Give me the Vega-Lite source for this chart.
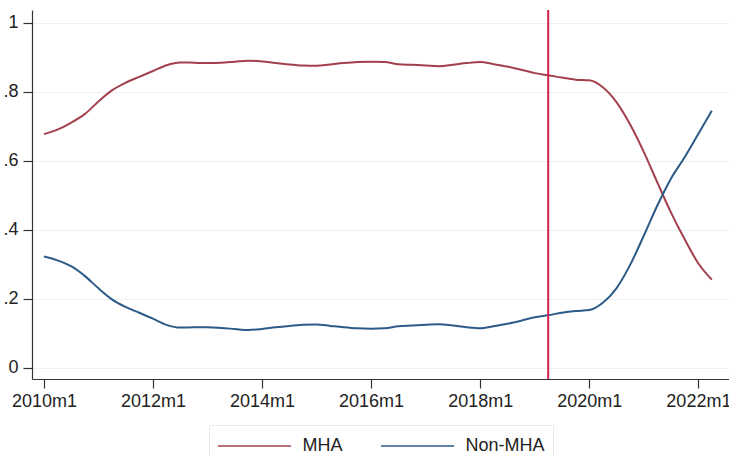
{
  "$schema": "https://vega.github.io/schema/vega-lite/v6.json",
  "width": 697,
  "height": 369,
  "autosize": {"type": "none"},
  "padding": {"left": 32, "top": 10, "right": 0, "bottom": 77},
  "background": "white",
  "config": {
    "view": {"stroke": null},
    "font": "Liberation Sans",
    "axis": {"labelFont": "Liberation Sans", "labelFontSize": 18, "labelColor": "#222222", "domainColor": "#333333", "tickColor": "#333333", "domainWidth": 1.2, "tickWidth": 1.2, "tickSize": 9}
  },
  "datasets": {
    "series": [
      {"date": "2010-01-01", "group": "MHA", "share": 0.677},
      {"date": "2010-04-01", "group": "MHA", "share": 0.690},
      {"date": "2010-07-01", "group": "MHA", "share": 0.710},
      {"date": "2010-10-01", "group": "MHA", "share": 0.735},
      {"date": "2011-01-01", "group": "MHA", "share": 0.772},
      {"date": "2011-04-01", "group": "MHA", "share": 0.804},
      {"date": "2011-07-01", "group": "MHA", "share": 0.826},
      {"date": "2011-10-01", "group": "MHA", "share": 0.843},
      {"date": "2012-01-01", "group": "MHA", "share": 0.860},
      {"date": "2012-04-01", "group": "MHA", "share": 0.877},
      {"date": "2012-07-01", "group": "MHA", "share": 0.885},
      {"date": "2012-10-01", "group": "MHA", "share": 0.884},
      {"date": "2013-01-01", "group": "MHA", "share": 0.883},
      {"date": "2013-04-01", "group": "MHA", "share": 0.884},
      {"date": "2013-07-01", "group": "MHA", "share": 0.887},
      {"date": "2013-10-01", "group": "MHA", "share": 0.890},
      {"date": "2014-01-01", "group": "MHA", "share": 0.888},
      {"date": "2014-04-01", "group": "MHA", "share": 0.883},
      {"date": "2014-07-01", "group": "MHA", "share": 0.879},
      {"date": "2014-10-01", "group": "MHA", "share": 0.876},
      {"date": "2015-01-01", "group": "MHA", "share": 0.875},
      {"date": "2015-04-01", "group": "MHA", "share": 0.879},
      {"date": "2015-07-01", "group": "MHA", "share": 0.883},
      {"date": "2015-10-01", "group": "MHA", "share": 0.886},
      {"date": "2016-01-01", "group": "MHA", "share": 0.887},
      {"date": "2016-04-01", "group": "MHA", "share": 0.886},
      {"date": "2016-07-01", "group": "MHA", "share": 0.880},
      {"date": "2016-10-01", "group": "MHA", "share": 0.878},
      {"date": "2017-01-01", "group": "MHA", "share": 0.876},
      {"date": "2017-04-01", "group": "MHA", "share": 0.874},
      {"date": "2017-07-01", "group": "MHA", "share": 0.878},
      {"date": "2017-10-01", "group": "MHA", "share": 0.883},
      {"date": "2018-01-01", "group": "MHA", "share": 0.886},
      {"date": "2018-04-01", "group": "MHA", "share": 0.880},
      {"date": "2018-07-01", "group": "MHA", "share": 0.873},
      {"date": "2018-10-01", "group": "MHA", "share": 0.864},
      {"date": "2019-01-01", "group": "MHA", "share": 0.854},
      {"date": "2019-04-01", "group": "MHA", "share": 0.848},
      {"date": "2019-07-01", "group": "MHA", "share": 0.841},
      {"date": "2019-10-01", "group": "MHA", "share": 0.835},
      {"date": "2020-01-01", "group": "MHA", "share": 0.833},
      {"date": "2020-04-01", "group": "MHA", "share": 0.813},
      {"date": "2020-07-01", "group": "MHA", "share": 0.770},
      {"date": "2020-10-01", "group": "MHA", "share": 0.705},
      {"date": "2021-01-01", "group": "MHA", "share": 0.625},
      {"date": "2021-04-01", "group": "MHA", "share": 0.537},
      {"date": "2021-07-01", "group": "MHA", "share": 0.450},
      {"date": "2021-10-01", "group": "MHA", "share": 0.372},
      {"date": "2022-01-01", "group": "MHA", "share": 0.302},
      {"date": "2022-04-01", "group": "MHA", "share": 0.255},
      {"date": "2010-01-01", "group": "Non-MHA", "share": 0.322},
      {"date": "2010-04-01", "group": "Non-MHA", "share": 0.311},
      {"date": "2010-07-01", "group": "Non-MHA", "share": 0.294},
      {"date": "2010-10-01", "group": "Non-MHA", "share": 0.266},
      {"date": "2011-01-01", "group": "Non-MHA", "share": 0.230},
      {"date": "2011-04-01", "group": "Non-MHA", "share": 0.198},
      {"date": "2011-07-01", "group": "Non-MHA", "share": 0.176},
      {"date": "2011-10-01", "group": "Non-MHA", "share": 0.159},
      {"date": "2012-01-01", "group": "Non-MHA", "share": 0.142},
      {"date": "2012-04-01", "group": "Non-MHA", "share": 0.124},
      {"date": "2012-07-01", "group": "Non-MHA", "share": 0.116},
      {"date": "2012-10-01", "group": "Non-MHA", "share": 0.117},
      {"date": "2013-01-01", "group": "Non-MHA", "share": 0.117},
      {"date": "2013-04-01", "group": "Non-MHA", "share": 0.115},
      {"date": "2013-07-01", "group": "Non-MHA", "share": 0.112},
      {"date": "2013-10-01", "group": "Non-MHA", "share": 0.109},
      {"date": "2014-01-01", "group": "Non-MHA", "share": 0.112},
      {"date": "2014-04-01", "group": "Non-MHA", "share": 0.117},
      {"date": "2014-07-01", "group": "Non-MHA", "share": 0.121},
      {"date": "2014-10-01", "group": "Non-MHA", "share": 0.124},
      {"date": "2015-01-01", "group": "Non-MHA", "share": 0.125},
      {"date": "2015-04-01", "group": "Non-MHA", "share": 0.121},
      {"date": "2015-07-01", "group": "Non-MHA", "share": 0.117},
      {"date": "2015-10-01", "group": "Non-MHA", "share": 0.114},
      {"date": "2016-01-01", "group": "Non-MHA", "share": 0.113},
      {"date": "2016-04-01", "group": "Non-MHA", "share": 0.114},
      {"date": "2016-07-01", "group": "Non-MHA", "share": 0.120},
      {"date": "2016-10-01", "group": "Non-MHA", "share": 0.122},
      {"date": "2017-01-01", "group": "Non-MHA", "share": 0.124},
      {"date": "2017-04-01", "group": "Non-MHA", "share": 0.126},
      {"date": "2017-07-01", "group": "Non-MHA", "share": 0.122},
      {"date": "2017-10-01", "group": "Non-MHA", "share": 0.117},
      {"date": "2018-01-01", "group": "Non-MHA", "share": 0.114},
      {"date": "2018-04-01", "group": "Non-MHA", "share": 0.120},
      {"date": "2018-07-01", "group": "Non-MHA", "share": 0.127},
      {"date": "2018-10-01", "group": "Non-MHA", "share": 0.136},
      {"date": "2019-01-01", "group": "Non-MHA", "share": 0.146},
      {"date": "2019-04-01", "group": "Non-MHA", "share": 0.152},
      {"date": "2019-07-01", "group": "Non-MHA", "share": 0.159},
      {"date": "2019-10-01", "group": "Non-MHA", "share": 0.164},
      {"date": "2020-01-01", "group": "Non-MHA", "share": 0.167},
      {"date": "2020-04-01", "group": "Non-MHA", "share": 0.188},
      {"date": "2020-07-01", "group": "Non-MHA", "share": 0.230},
      {"date": "2020-10-01", "group": "Non-MHA", "share": 0.298},
      {"date": "2021-01-01", "group": "Non-MHA", "share": 0.383},
      {"date": "2021-04-01", "group": "Non-MHA", "share": 0.470},
      {"date": "2021-07-01", "group": "Non-MHA", "share": 0.548},
      {"date": "2021-10-01", "group": "Non-MHA", "share": 0.610},
      {"date": "2022-01-01", "group": "Non-MHA", "share": 0.678},
      {"date": "2022-04-01", "group": "Non-MHA", "share": 0.745}
    ],
    "event": [{"date": "2019-04-01"}]
  },
  "layer": [
    {
      "data": {"name": "series"},
      "mark": {"type": "line", "strokeWidth": 2, "interpolate": "monotone"},
      "encoding": {
        "x": {
          "field": "date", "type": "temporal",
          "scale": {"type": "utc", "domain": ["2009-10-13", "2022-07-25"]},
          "axis": {
            "title": null, "grid": false,
            "values": ["2010-01-01", "2012-01-01", "2014-01-01", "2016-01-01", "2018-01-01", "2020-01-01", "2022-01-01"],
            "labelExpr": "utcFormat(datum.value, '%Y') + 'm' + (utcmonth(datum.value) + 1)",
            "labelPadding": 4, "labelFlush": false, "labelOverlap": false
          }
        },
        "y": {
          "field": "share", "type": "quantitative",
          "scale": {"domain": [-0.033, 1.037], "nice": false, "zero": false},
          "axis": {
            "title": null, "values": [0, 0.2, 0.4, 0.6, 0.8, 1],
            "labelExpr": "datum.value > 0 && datum.value < 1 ? substring(format(datum.value, '.1f'), 1) : format(datum.value, 'd')",
            "grid": true, "gridColor": "#eaf0f3", "gridWidth": 1.2,
            "labelPadding": 5, "labelFlush": false
          }
        },
        "color": {
          "field": "group", "type": "nominal",
          "scale": {"domain": ["MHA", "Non-MHA"], "range": ["#a3404e", "#2d5b88"]},
          "legend": {
            "title": null, "orient": "none", "direction": "horizontal",
            "legendX": 177, "legendY": 415,
            "symbolType": "M-3,0H3", "symbolSize": 592, "symbolStrokeWidth": 1.6,
            "symbolOffset": 24.5,
            "labelFontSize": 18, "labelFont": "Liberation Sans", "labelColor": "#222222",
            "labelOffset": 35, "columnPadding": 34,
            "padding": 8, "strokeColor": "#e8ecef", "fillColor": "white"
          }
        }
      }
    },
    {
      "data": {"name": "event"},
      "mark": {"type": "rule", "color": "#d3204f", "strokeWidth": 2},
      "encoding": {
        "x": {"field": "date", "type": "temporal"}
      }
    }
  ]
}
